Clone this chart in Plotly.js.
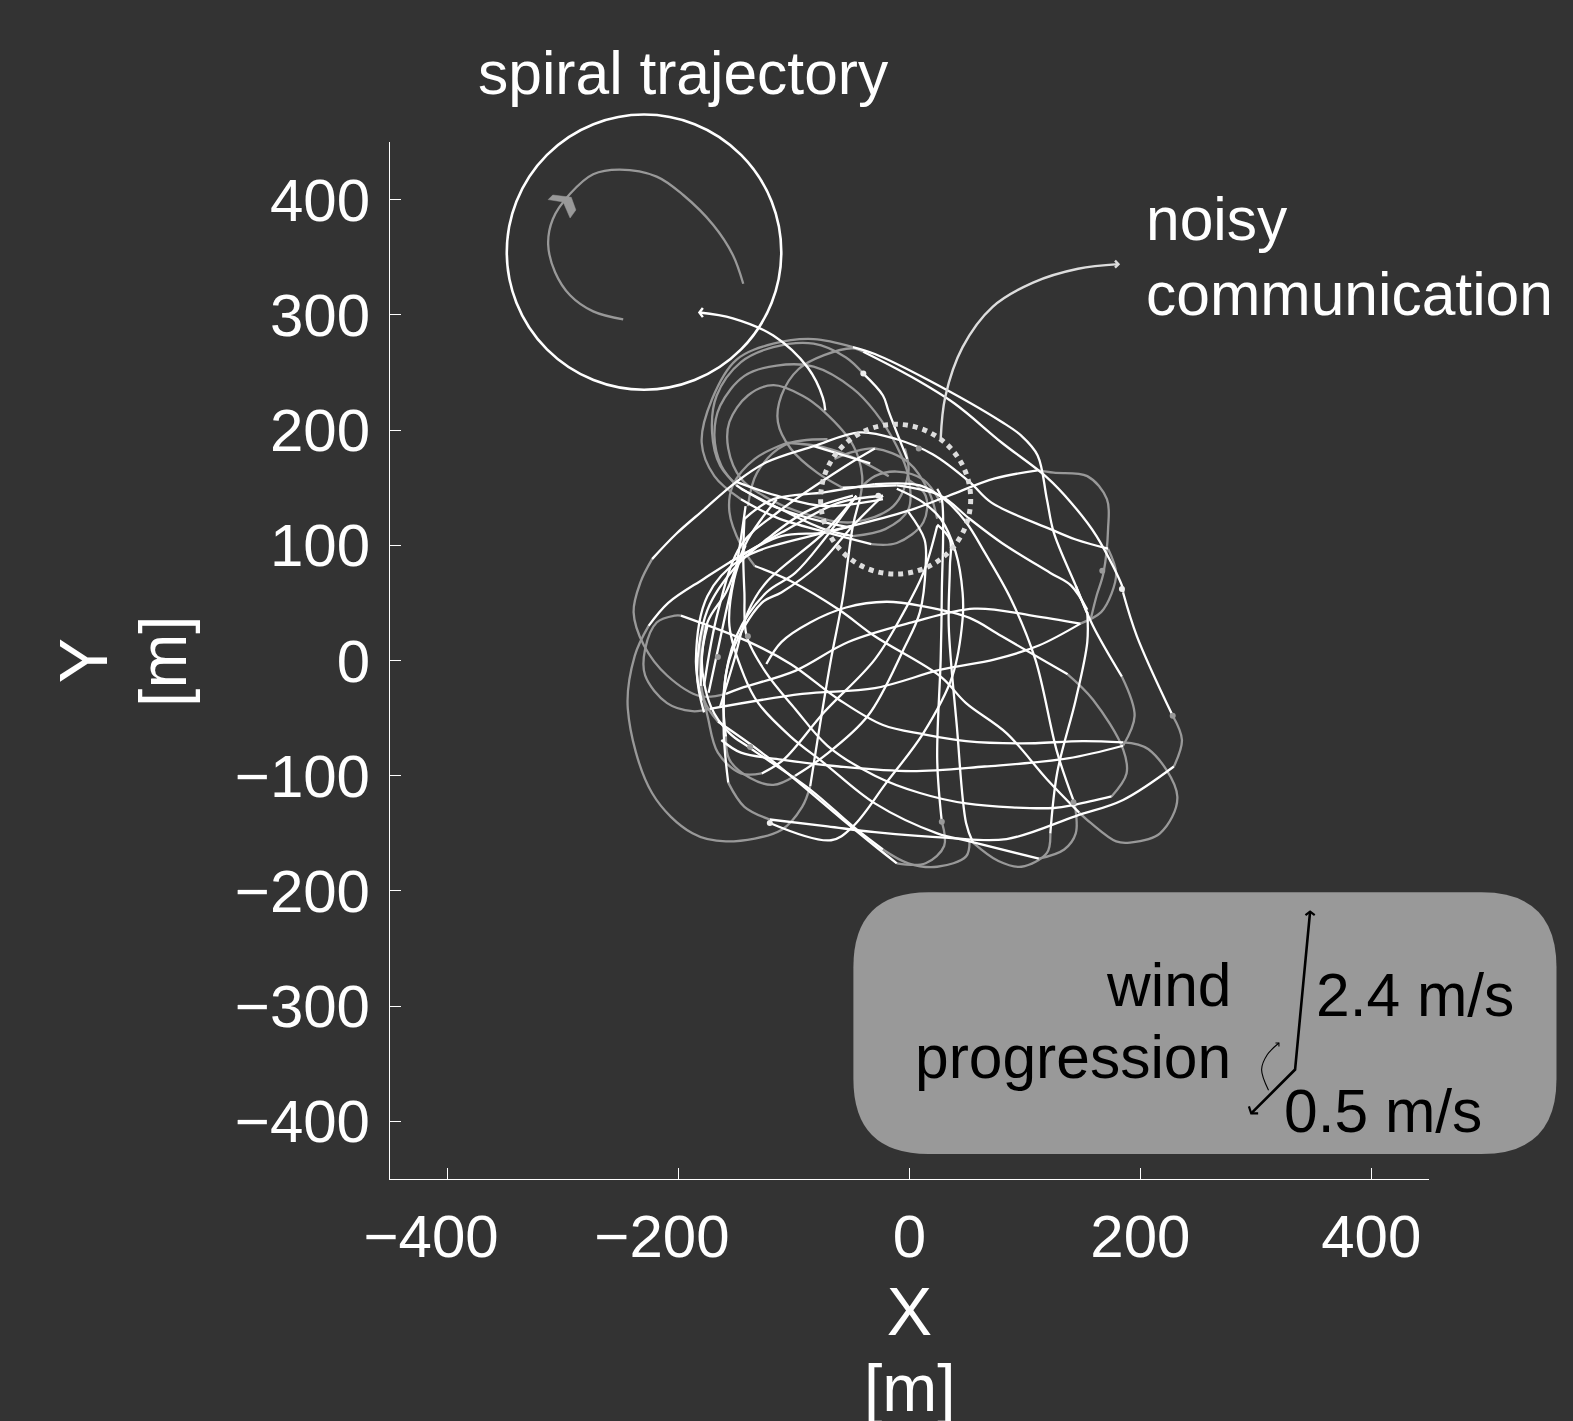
<!DOCTYPE html>
<html><head><meta charset="utf-8">
<script src="https://cdn.plot.ly/plotly-3.0.1.min.js"></script>
<style>html,body{margin:0;padding:0;background:#333}</style></head>
<body><div id="chart" style="width:1573px;height:1421px"></div>
<script>
// Flight path pieces, in metres [x, y]
const w01=[[-157,-29],[-144,-24],[-97,-9],[-51,16],[4,33],[58,45],[108,39],[150,32]];
const w02=[[174,97],[146,105],[124,114],[73,137],[54,155],[22,179],[-9,192],[-41,198],[-81,186],[-122,172],[-148,155],[-176,131],[-200,110],[-221,88]];
const w03=[[-132,82],[-101,69],[-59,44],[-28,21],[29,-14],[51,-37],[86,-63],[121,-103],[149,-132]];
const w04=[[187,-71],[152,-70],[99,-72],[51,-70],[14,-64],[-21,-56],[-59,-34],[-101,-3],[-139,17],[-196,39]];
const w05=[[-171,-42],[-91,-29],[-28,-24],[29,-8],[76,1],[114,13],[150,32]];
const w06=[[-122,-3],[-109,16],[-84,33],[-53,46],[-18,51],[14,47],[54,37],[82,21],[139,-12]];
const w07=[[177,-118],[146,-125],[127,-128],[51,-124],[11,-115],[-28,-100],[-69,-74],[-97,-42],[-122,-11],[-139,21],[-141,59],[-142,90],[-141,123]];
const w08=[[-28,153],[11,152],[32,140],[51,120],[67,94],[90,53],[111,1],[130,-80],[145,-124]];
const w09=[[114,-172],[54,-157],[26,-150],[-28,-124],[-72,-89],[-101,-66],[-129,-37],[-141,-14],[-154,30],[-150,70],[-140,100]];
const w10=[[-9,-176],[-28,-161],[-56,-138],[-122,-83],[-164,-53]];
const w11=[[30,-140],[26,-86],[29,1],[30,59],[30,140],[26,149]];
const w12=[[-21,-164],[-47,-144],[-84,-112],[-136,-76],[-154,-63],[-170,-40],[-178,0],[-173,30]];
const w13=[[57,-158],[51,-141],[43,-57],[36,30],[37,82],[37,105],[26,118]];
const w14=[[156,42],[156,16],[146,-34],[130,-97],[124,-150]];
const w15=[[156,41],[146,65],[127,111],[121,140],[113,178],[99,195],[82,207],[19,243],[-28,266],[-47,272]];
const w16=[[-144,140],[-113,124],[-69,111],[-31,101]];
const w17=[[187,59],[187,62],[164,108],[142,137],[121,159],[82,189],[41,223],[4,246],[-38,268]];
const w18=[[-56,150],[-9,152]];
const w19=[[187,59],[199,21],[230,-48]];
const w20=[[231,-92],[187,-121],[146,-135],[86,-155],[36,-154],[-28,-149],[-69,-144],[-119,-138]];
const w21=[[-155,-106],[-159,-57],[-154,1],[-126,50],[-109,59],[-78,82],[-47,117],[-21,143]];
const w22=[[26,117],[14,76],[-3,42],[-28,1],[-72,-45],[-107,-86],[-126,-98]];
const w23=[[-179,-22],[-173,33],[-157,59],[-138,105],[-113,140]];
const w24=[[1,129],[15,105],[16,82],[11,42],[-3,10],[-34,-48],[-72,-83],[-97,-100]];
const w25=[[-157,-66],[-159,-28],[-148,21],[-122,59],[-97,76],[-72,105],[-44,143]];
const w26=[[-84,-109],[-78,-71],[-66,1],[-56,53],[-47,117],[-41,140]];
const w27=[[-224,30],[-207,50],[-176,71],[-144,91],[-109,108],[-72,111],[-47,117]];
const w28=[[-38,249],[-21,230],[-16,216],[0,175]];
const w29=[[-144,149],[-109,131],[-72,114],[-47,108]];
const w30=[[-148,152],[-116,134],[-72,120],[-47,115]];
const w31=[[-176,-45],[-182,-12],[-173,44],[-148,82],[-122,105],[-88,129],[-47,143]];
const w32=[[-176,-22],[-164,42],[-144,100],[-113,128],[-53,169],[-28,184]];
const w33=[[-162,-40],[-150,0],[-138,42],[-122,68],[-72,111],[-44,143]];
const w34=[[-141,123],[-116,140],[-72,146],[-28,153]];
const w35=[[-172,-28],[-157,42],[-148,82],[-140,134]];
const w36=[[-154,85],[-109,111],[-59,137],[-21,143]];
const w37=[[-148,155],[-113,143],[-72,134],[-21,140]];
const w38=[[-81,186],[-32,171]];
const w39=[[113,165],[76,158],[36,143],[4,131],[-47,117],[-72,111],[-144,88],[-173,56],[-183,0],[-178,-35]];
const w40=[[-9,149],[14,137],[29,123],[42,94],[48,59],[48,36],[39,-14],[14,-63],[-18,-106],[-47,-144],[-66,-156],[-119,-141]];
const w41=[[156,44],[142,65],[124,76],[82,102],[54,123],[29,143],[-9,152]];
const w42=[[146,65],[161,30],[186,-14]];
const w43=[[187,-74],[139,-85],[67,-92],[4,-96],[-59,-92],[-109,-86],[-144,-80],[-161,-69]];

const g01=[[-221,88],[-231,68],[-237,42],[-228,13],[-208,-13],[-179,-31],[-157,-29]];
const g02=[[150,32],[168,42],[177,58],[181,76],[174,97]];
const g03=[[-104,189],[-132,175],[-151,152],[-154,129],[-144,100],[-132,82]];
const g04=[[149,-132],[159,-141],[181,-157],[193,-158],[219,-150],[234,-118],[209,-77],[187,-71]];
const g05=[[-196,39],[-201,39],[-217,33],[-227,10],[-227,-13],[-208,-37],[-186,-44],[-171,-42]];
const g06=[[139,-12],[161,-34],[187,-77],[190,-98],[177,-118]];
const g08=[[145,-124],[146,-150],[136,-164],[114,-172]];
const g09=[[30,-140],[32,-161],[16,-176],[-9,-176]];
const g10=[[-164,-53],[-176,-34],[-179,16],[-176,30]];
const g11=[[124,-150],[121,-167],[99,-179],[79,-174],[57,-158]];
const g11b=[[54,-157],[51,-170],[26,-179],[1,-176],[-21,-164]];
const g12=[[-47,272],[-81,279],[-116,275],[-148,261],[-169,227],[-178,189],[-167,160],[-144,140]];
const g13=[[-31,101],[-9,102],[14,120],[16,143],[1,157]];
const g14=[[-38,268],[-47,271],[-72,265],[-94,253],[-109,230],[-112,207],[-101,184],[-78,163],[-56,150]];
const g15=[[230,-48],[238,-69],[231,-92]];
const g16=[[-119,-138],[-141,-127],[-155,-106]];
const g17=[[-126,-98],[-144,-98],[-164,-80],[-173,-48],[-179,-22]];
const g19=[[-97,-100],[-116,-108],[-136,-102],[-154,-86],[-157,-66]];
const g20=[[-41,140],[-39,160],[-47,187],[-72,216],[-91,230],[-116,239],[-138,230],[-154,207],[-155,184],[-144,158],[-119,140],[-84,126],[-47,120],[-12,134],[1,163],[-2,184]];
const g21=[[-84,-109],[-91,-127],[-109,-147],[-157,-157],[-186,-150],[-221,-115],[-242,-42],[-236,4],[-224,30]];
const g22=[[-38,249],[-53,263],[-81,275],[-116,272],[-144,259],[-165,230],[-169,198],[-162,169],[-144,149]];
const g23=[[-47,108],[-19,114],[1,131],[1,160],[-9,186],[-28,216],[-47,236],[-81,255],[-113,256],[-141,247],[-162,221],[-167,195],[-161,169],[-148,152]];
const g24=[[-16,160],[-44,175],[-72,185],[-104,189]];
const g25=[[-138,134],[-130,163],[-106,187],[-69,192]];
const g26=[[-63,175],[-47,181],[-28,184],[1,172],[19,146],[26,123]];
const g27=[[-41,149],[-28,160],[-9,164],[14,157],[29,137]];
const g28=[[113,165],[127,163],[156,160],[173,140],[174,114],[170,76],[164,56],[159,36]];
const g29=[[186,-14],[197,-48],[187,-74]];

const whitePaths=[w01,w02,w03,w04,w05,w06,w07,w08,w09,w10,w11,w12,w13,w14,w15,w16,w17,w18,w19,w20,w21,w22,w23,w24,w25,w26,w27,w28,w29,w30,w31,w32,w33,w34,w35,w36,w37,w38,w39,w40,w41,w42,w43];
const grayPaths=[g01,g02,g03,g04,g05,g06,g08,g09,g10,g11,g11b,g12,g13,g14,g15,g16,g17,g19,g20,g21,g22,g23,g24,g25,g26,g27,g28,g29];

const dotsWhite=[[-38,249],[-119,-141],[186,62],[-25,143]];
const dotsGray=[[30,-140],[144,-123],[230,-48],[-138,21],[-164,3],[-136,-75],[169,78],[10,184]];

// Spiral trajectory inset
const spiralPath=[[-142,327],[-151,352],[-168,378],[-194,404],[-217,420],[-249,426],[-272,422],[-292,405],[-307,383],[-311,361],[-305,337],[-292,317],[-272,303],[-246,296]];
const spiralHead=[[-311,400],[-307,404],[-291,402],[-287,391],[-292,384],[-298,398],[-311,400]];

// Callout arrows
const spiralCallout=[[-73,217],[-75,228],[-88,254],[-118,282],[-153,297],[-182,302]];
const spiralCalloutHead=[[-179,306],[-182,302],[-179,298]];
const noisyCallout=[[27,192],[31,229],[46,272],[72,307],[107,328],[146,340],[181,344]];
const noisyCalloutHead=[[178,347],[181,344],[178,341]];

// Wind
const windLine=[[347,-218],[334,-355],[296,-393]];
const windHeadTop=[[343,-221],[347,-218],[351,-221]];
const windHeadLow=[[294,-387],[296,-393],[302,-393]];
const windTurn=[[311,-373],[305,-355],[310,-342],[320,-332]];
const windTurnHead=[[317,-332],[320,-332],[320,-335]];

const yTickVals=[-400,-300,-200,-100,0,100,200,300,400];
const xTickVals=[-400,-200,0,200,400];
const xTickText=['\u2212400\u00a0\u00a0','\u2212200\u00a0\u00a0','0','200','400'];
const xReadingOffset=-2; // metres: calibrates the values

const traces=[];
function addLine(p,color,width,shape,off){
  traces.push({type:'scatter',mode:'lines',x:p.map(q=>q[0]+(off||0)),y:p.map(q=>q[1]),
    line:{color:color,width:width,shape:shape||'spline',smoothing:1},hoverinfo:'skip',showlegend:false,cliponaxis:false});
}
grayPaths.forEach(p=>addLine(p,'#999999',2.3,'spline',xReadingOffset));
whitePaths.forEach(p=>addLine(p,'#ffffff',2.3,'spline',xReadingOffset));
function addDots(p,color){
  traces.push({type:'scatter',mode:'markers',x:p.map(q=>q[0]+xReadingOffset),y:p.map(q=>q[1]),
    marker:{color:color,size:6},hoverinfo:'skip',showlegend:false});
}
addDots(dotsGray,'#999999');
addDots(dotsWhite,'#eeeeee');
addLine(spiralPath,'#999999',2.3,'spline',xReadingOffset);
traces.push({type:'scatter',mode:'lines',x:spiralHead.map(q=>q[0]+xReadingOffset),y:spiralHead.map(q=>q[1]),fill:'toself',fillcolor:'#999999',
  line:{color:'#999999',width:0.5},hoverinfo:'skip',showlegend:false});
addLine(spiralCallout,'#ffffff',2.4);
addLine(spiralCalloutHead,'#ffffff',2.4,'linear');
addLine(noisyCallout,'#dddddd',2.4);
addLine(noisyCalloutHead,'#dddddd',2.4,'linear');
addLine(windLine,'#000000',2.6,'linear');
addLine(windHeadTop,'#000000',2.2,'linear');
addLine(windHeadLow,'#000000',2.2,'linear');
addLine(windTurn,'#000000',1.1);
addLine(windTurnHead,'#000000',1.1,'linear');

const font='"Liberation Sans", Arial, sans-serif';
function note(text,x,y,anchor,color){
  return {text:text,x:x,y:y,xref:'x',yref:'y',xanchor:anchor,yanchor:'middle',showarrow:false,
    font:{family:font,size:60.5,color:color||'#ffffff'}};
}
const layout={
  width:1573,height:1421,paper_bgcolor:'#333333',plot_bgcolor:'#333333',showlegend:false,
  margin:{l:389.5,r:144,t:141.5,b:242.3,pad:0},font:{family:font,color:'#ffffff',size:60},
  xaxis:{range:[-450,450],tickvals:xTickVals,ticktext:xTickText,ticks:'inside',ticklen:11,tickwidth:1,tickcolor:'#ffffff',
    showline:true,linecolor:'#ffffff',linewidth:1,showgrid:false,zeroline:false,ticklabelstandoff:5,
    tickfont:{family:font,size:60,color:'#ffffff'},
    title:{text:'X',font:{family:font,size:68,color:'#ffffff'},standoff:18}},
  yaxis:{range:[-450,450],tickvals:yTickVals,ticks:'inside',ticklen:11,tickwidth:1,tickcolor:'#ffffff',
    showline:true,linecolor:'#ffffff',linewidth:1,showgrid:false,zeroline:false,ticklabelstandoff:7,
    tickfont:{family:font,size:60,color:'#ffffff'},
    title:{text:'Y',font:{family:font,size:68,color:'#ffffff'},standoff:105}},
  shapes:[
    {type:'path',xref:'paper',yref:'paper',layer:'below',fillcolor:'#999999',line:{width:0},
     path:'M .5182,.2764 L 1.0505,.2764 Q 1.1227,.2764 1.1227,.2041 L 1.1227,.0964 Q 1.1227,.0241 1.0505,.0241 L .5182,.0241 Q .446,.0241 .446,.0964 L .446,.2041 Q .446,.2764 .5182,.2764 Z'},
    {type:'circle',xref:'paper',yref:'paper',x0:.1124,x1:.3766,y0:.7611,y1:1.0265,line:{color:'#ffffff',width:2.6},layer:'above'},
    {type:'circle',xref:'x',yref:'y',x0:-77,x1:53,y0:75,y1:205,line:{color:'#dddddd',width:5,dash:'5px,5px'},layer:'above'}
  ],
  annotations:[
    {text:'spiral trajectory',x:.2825,y:1.0665,xref:'paper',yref:'paper',xanchor:'center',yanchor:'middle',showarrow:false,
     font:{family:font,size:60.5,color:'#ffffff'}},
    {text:'[m]',x:-.219,y:.5,xref:'paper',yref:'paper',xanchor:'center',yanchor:'middle',showarrow:false,textangle:-90,
     font:{family:font,size:66,color:'#ffffff'}},
    {text:'[m]',x:.5,y:-.202,xref:'paper',yref:'paper',xanchor:'center',yanchor:'middle',showarrow:false,
     font:{family:font,size:66,color:'#ffffff'}},
    note('noisy',203,383,'left'),
    note('communication',203,318,'left'),
    note('wind',280,-282,'right','#000000'),
    note('progression',280,-344,'right','#000000'),
    note('2.4 m/s',350.5,-290,'left','#000000'),
    note('0.5 m/s',323,-391,'left','#000000')
  ]
};
Plotly.newPlot('chart',traces,layout,{displayModeBar:false,staticPlot:true});
</script></body></html>
